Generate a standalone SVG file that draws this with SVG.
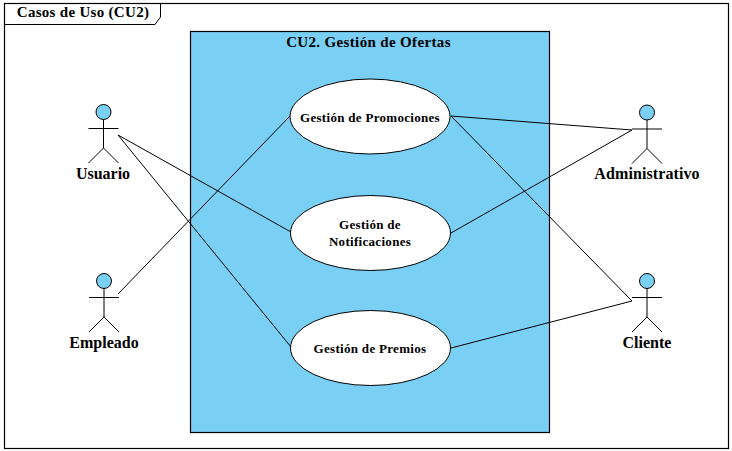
<svg xmlns="http://www.w3.org/2000/svg" width="732" height="451" viewBox="0 0 732 451">
<style>
text{font-family:"Liberation Serif","Times New Roman",serif;font-weight:bold;fill:#000;text-anchor:middle}
.frame{font-size:15px}
.actorlabel{font-size:16px}
.uc{font-size:13px;letter-spacing:.3px}
.line{fill:none;stroke:#000;stroke-width:1}
.head{fill:#7acff5;stroke:#000;stroke-width:1}
.oval{fill:#fff;stroke:#000;stroke-width:1}
</style>
<defs>
<g id="stick">
<circle class="head" cx="0" cy="0" r="7.500"/>
<path class="line" d="M0 7.500V36M-15 16.500H15M-15 51L0 36L15 51"/>
</g>
</defs>
<rect width="732" height="451" fill="#fff"/>
<g id="frame">
<rect x="4.500" y="3.500" width="724" height="445" fill="#fff" stroke="#000" stroke-width="1.200"/>
<path d="M4.500 24.500H155L160.500 17V3.500" fill="none" stroke="#000"/>
<text class="frame" x="83" y="17" letter-spacing=".3">Casos de Uso (CU2)</text>
</g>
<g id="system">
<rect x="190.500" y="31.500" width="359" height="401" fill="#7acff5" stroke="#000" stroke-width="1.200"/>
<text x="368.500" y="46.500" font-size="15" letter-spacing=".35">CU2. Gestión de Ofertas</text>
</g>
<g id="connectors">
<path class="line" d="M118 135L291 232M118 135L291 347M118 294L290 116M451 116L632 130M451 116L632 301M451 233L632 130M451 348L632 301"/>
</g>
<g id="uc1">
<ellipse class="oval" cx="370" cy="116.500" rx="80" ry="37.500"/>
<text class="uc" x="370" y="121.500">Gestión de Promociones</text>
</g>
<g id="uc2">
<ellipse class="oval" cx="370.500" cy="233" rx="80" ry="37.500"/>
<text class="uc" x="370" y="228.500">Gestión de</text>
<text class="uc" x="370" y="245.500">Notificaciones</text>
</g>
<g id="uc3">
<ellipse class="oval" cx="370.500" cy="348" rx="80" ry="37.500"/>
<text class="uc" x="370" y="352.500">Gestión de Premios</text>
</g>
<g id="usuario">
<use href="#stick" x="103.500" y="112"/>
<text class="actorlabel" x="103" y="179">Usuario</text>
</g>
<g id="empleado">
<use href="#stick" x="104" y="281"/>
<text class="actorlabel" x="104" y="348">Empleado</text>
</g>
<g id="administrativo">
<use href="#stick" x="647" y="112.500"/>
<text class="actorlabel" x="647" y="179" letter-spacing=".1">Administrativo</text>
</g>
<g id="cliente">
<use href="#stick" x="647" y="281"/>
<text class="actorlabel" x="647" y="348">Cliente</text>
</g>
</svg>
